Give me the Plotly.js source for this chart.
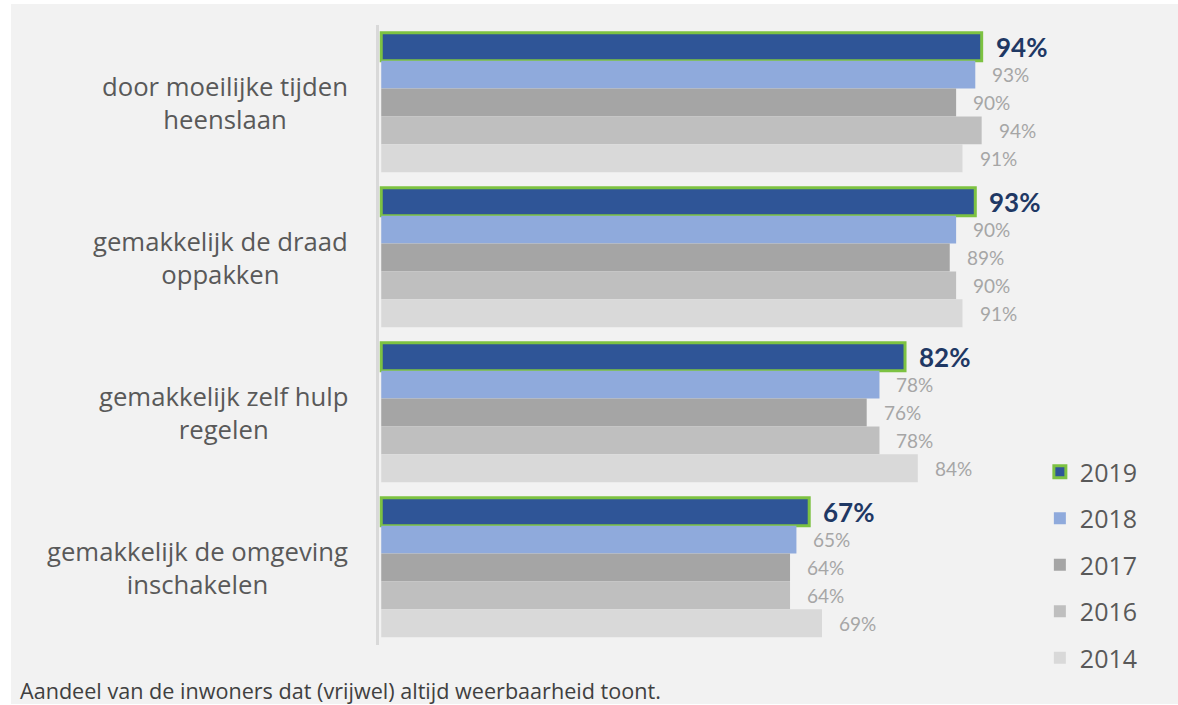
<!DOCTYPE html>
<html>
<head>
<meta charset="utf-8">
<script src="https://cdn.plot.ly/plotly-3.0.1.min.js"></script>
<style>
  html, body { margin: 0; padding: 0; background: #ffffff; }
  #wrap { position: absolute; left: 11px; top: 4px; width: 1167px; height: 700px; background: #f2f2f2; }
  #chart { width: 1167px; height: 700px; }
</style>
</head>
<body>
<div id="wrap"><div id="chart"></div></div>
<script>
const categories = [
  "door moeilijke tijden<br>heenslaan",
  "gemakkelijk de draad<br>oppakken",
  "gemakkelijk zelf hulp<br>regelen",
  "gemakkelijk de omgeving<br>inschakelen"
];
const years = ["2019", "2018", "2017", "2016", "2014"];
const v2019 = [94, 93, 82, 67];
const v2018 = [93, 90, 78, 65];
const v2017 = [90, 89, 76, 64];
const v2016 = [94, 90, 78, 64];
const v2014 = [91, 91, 84, 69];
const footnote = "Aandeel van de inwoners dat (vrijwel) altijd weerbaarheid toont.";

const series = [v2019, v2018, v2017, v2016, v2014];
const fills = ["#2f5597", "#8faadc", "#a5a5a5", "#bfbfbf", "#d9d9d9"];
const SANS = "'Open Sans', 'Noto Sans', sans-serif";
const NUM = "Lato, 'Open Sans', sans-serif";

const traces = series.map((vals, i) => ({
  type: "bar",
  orientation: "h",
  name: years[i],
  legendgroup: years[i],
  x: vals,
  y: categories,
  marker: {
    color: fills[i],
    line: i === 0 ? {color: "#7dc242", width: 3} : {width: 0}
  },
  hoverinfo: "x+name"
}));

const bargap = 0.1;
const nS = series.length;
const bw = (1 - bargap) / nS;
const annotations = [];

categories.forEach((c, ci) => {
  annotations.push({
    xref: "paper", yref: "y",
    x: -0.0452, y: ci,
    text: c, showarrow: false,
    xanchor: "right", yanchor: "middle", align: "center",
    font: {family: SANS, size: 25.7, color: "#595959"}
  });
  series.forEach((vals, si) => {
    const off = -(1 - bargap) / 2 + bw * (si + 0.5);
    annotations.push({
      xref: "x", yref: "y",
      x: vals[ci], y: ci + off,
      text: vals[ci] + "%", showarrow: false,
      xanchor: "left", yanchor: "middle",
      xshift: si === 0 ? 12 : 15,
      font: si === 0
        ? {family: NUM, size: 26, color: "#1f3864", weight: "bold"}
        : {family: NUM, size: 19, color: "#a6a6a6"}
    });
  });
});

annotations.push({
  xref: "paper", yref: "paper",
  x: -0.563, y: -0.0726,
  text: footnote, showarrow: false,
  xanchor: "left", yanchor: "middle",
  font: {family: SANS, size: 21.6, color: "#404040"}
});

const layout = {
  width: 1167, height: 700,
  paper_bgcolor: "#f2f2f2",
  plot_bgcolor: "#f2f2f2",
  margin: {l: 368, r: 158, t: 21, b: 59, pad: 0},
  barmode: "group",
  bargap: bargap,
  bargroupgap: 0,
  font: {family: SANS, color: "#595959"},
  xaxis: {
    range: [-0.35, 100],
    visible: false,
    fixedrange: true
  },
  yaxis: {
    type: "category",
    autorange: "reversed",
    showline: true,
    linecolor: "#d9d9d9",
    linewidth: 3,
    showticklabels: false,
    ticks: "",
    showgrid: false,
    zeroline: false
  },
  legend: {
    x: 1.031, xanchor: "left",
    y: 0.316, yanchor: "top",
    traceorder: "grouped",
    tracegroupgap: 11,
    bgcolor: "rgba(0,0,0,0)",
    font: {family: SANS, size: 25, color: "#595959"}
  },
  showlegend: true,
  annotations: annotations
};

Plotly.newPlot("chart", traces, layout, {displayModeBar: false, staticPlot: true});
</script>
</body>
</html>
